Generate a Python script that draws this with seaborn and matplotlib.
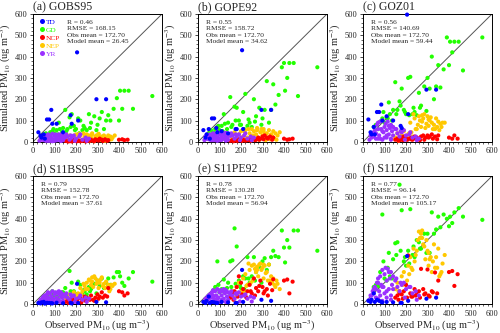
import matplotlib
matplotlib.use("Agg")
import matplotlib.pyplot as plt
from matplotlib.ticker import MultipleLocator
import seaborn as sns
import pandas as pd

# ---- data (obs shared across panels) ----
panels = ["a", "b", "c", "d", "e", "f"]
titles = ["(a) GOBS95", "(b) GOPE92", "(c) GOZ01", "(d) S11BS95", "(e) S11PE92", "(f) S11Z01"]
r_vals = ["0.46", "0.55", "0.56", "0.79", "0.78", "0.77"]
rmse_vals = ["168.15", "158.72", "140.69", "152.78", "130.28", "96.14"]
obs_mean = "172.70"
model_means = ["26.45", "34.62", "59.44", "37.61", "56.94", "105.17"]

legend_order = ["TD", "GD", "NCP", "NEP", "YR"]
draw_order = ["GD", "NEP", "NCP", "YR", "TD"]
colors = {"TD": "#0000FF", "GD": "#22FF00", "NCP": "#FF0000", "NEP": "#FFC800", "YR": "#9B30FF"}

td_obs = [25, 35, 40, 50, 55, 65, 75, 85, 90, 110, 140, 175, 180, 205, 210, 295, 340]
td_sim = {
    "a": [45, 30, 20, 35, 15, 105, 105, 150, 85, 85, 45, 125, 85, 420, 100, 200, 200],
    "b": [55, 20, 35, 60, 15, 110, 110, 65, 45, 50, 40, 60, 60, 430, 60, 150, 150],
    "c": [105, 45, 35, 70, 35, 140, 140, 175, 100, 120, 100, 75, 65, 597, 130, 245, 245],
    "d": [5, 3, 8, 10, 2, 6, 5, 4, 3, 6, 4, 5, 3, 95, 5, 10, 8],
    "e": [10, 5, 15, 35, 5, 10, 8, 6, 5, 10, 8, 5, 5, 160, 10, 20, 15],
    "f": [15, 10, 20, 50, 10, 20, 15, 10, 8, 10, 8, 5, 5, 225, 15, 25, 30],
}

gd_obs = [50, 60, 70, 80, 90, 100, 110, 120, 125, 135, 150, 160, 170, 180, 190, 200, 210, 220, 230, 240,
          250, 260, 270, 285, 300, 310, 320, 330, 340, 350, 360, 375, 390, 400, 405, 415, 425, 445, 465, 555,
          95, 115, 140, 155, 175, 195, 215, 235, 265, 295]
gd_sim = {
    "a": [35, 40, 30, 45, 50, 40, 55, 90, 60, 45, 150, 60, 115, 130, 75, 60, 110, 100, 55, 65,
          55, 130, 90, 120, 80, 110, 140, 60, 100, 125, 100, 155, 205, 100, 240, 155, 240, 240, 155, 215,
          60, 35, 65, 50, 70, 55, 40, 75, 65, 55],
    "b": [40, 55, 45, 60, 70, 55, 75, 130, 85, 60, 210, 80, 165, 160, 100, 80, 140, 225, 75, 90,
          70, 200, 120, 160, 110, 150, 285, 90, 150, 270, 175, 220, 350, 370, 240, 300, 370, 370, 215, 350,
          75, 50, 90, 70, 100, 80, 60, 105, 95, 80],
    "c": [70, 80, 60, 95, 110, 90, 115, 185, 130, 100, 280, 150, 190, 250, 150, 130, 300, 305, 130, 140,
          125, 230, 170, 260, 300, 250, 400, 200, 260, 360, 255, 340, 490, 360, 470, 420, 470, 470, 335, 490,
          140, 110, 150, 130, 170, 140, 125, 160, 160, 145],
    "d": [30, 35, 45, 25, 60, 40, 35, 50, 45, 55, 75, 45, 155, 100, 60, 40, 105, 90, 50, 60,
          45, 80, 70, 95, 110, 85, 120, 75, 100, 120, 90, 125, 150, 150, 130, 100, 85, 120, 150, 105,
          45, 30, 55, 40, 60, 50, 35, 65, 60, 50],
    "e": [40, 45, 35, 80, 200, 55, 70, 115, 60, 75, 200, 205, 355, 270, 110, 75, 130, 120, 220, 100,
          130, 220, 150, 175, 200, 215, 160, 185, 220, 250, 225, 220, 345, 265, 195, 300, 265, 345, 345, 250,
          90, 60, 100, 80, 95, 90, 70, 120, 110, 100],
    "f": [80, 90, 85, 150, 420, 120, 110, 240, 130, 120, 285, 290, 560, 440, 200, 180, 250, 445, 230, 220,
          300, 290, 260, 330, 330, 240, 430, 330, 350, 410, 360, 420, 400, 365, 410, 380, 430, 450, 410, 395,
          200, 170, 210, 230, 250, 220, 190, 270, 260, 240],
}

ncp_obs = [150, 160, 170, 180, 190, 200, 210, 220, 230, 240, 250, 260, 270, 280, 290, 300, 310, 320,
           335, 350, 400, 415, 425, 440, 165, 185, 205, 225, 245, 265, 285, 305, 325, 345]
ncp_sim = {
    "a": [5, 3, 8, 2, 10, 4, 6, 3, 5, 8, 4, 6, 10, 5, 12, 8, 15, 10, 12, 8, 10, 12, 8, 10,
          2, 5, 3, 6, 2, 5, 3, 6, 4, 5],
    "b": [5, 8, 10, 5, 12, 8, 10, 6, 8, 10, 12, 15, 10, 20, 15, 25, 30, 20, 25, 20, 15, 10, 12, 15,
          3, 6, 5, 8, 5, 8, 10, 12, 15, 10],
    "c": [10, 15, 8, 20, 25, 15, 12, 18, 10, 25, 20, 15, 25, 30, 20, 30, 25, 35, 25, 30, 20, 15, 30, 15,
          5, 8, 10, 12, 15, 8, 10, 20, 15, 12],
    "d": [10, 15, 20, 25, 20, 15, 25, 30, 20, 35, 30, 25, 40, 20, 30, 45, 35, 55, 40, 75, 60, 55, 40, 50,
          5, 10, 12, 8, 15, 20, 15, 25, 30, 35],
    "e": [30, 50, 60, 80, 130, 100, 70, 40, 60, 90, 50, 120, 75, 60, 110, 80, 60, 70, 95, 116, 110, 115, 50, 105,
          20, 35, 45, 30, 60, 40, 85, 50, 40, 65],
    "f": [30, 40, 50, 45, 60, 90, 228, 50, 35, 70, 55, 60, 165, 70, 50, 162, 35, 60, 148, 110, 150, 155, 85, 140,
          20, 25, 30, 35, 40, 30, 45, 40, 55, 50],
}

nep_obs = [150, 160, 170, 180, 190, 200, 210, 220, 230, 240, 250, 255, 260, 270, 275, 280, 290, 295,
           300, 305, 310, 320, 325, 330, 340, 345, 350, 360, 370, 380,
           165, 185, 205, 225, 245, 265, 285, 315, 335, 355, 365, 235, 275, 305, 215]
nep_sim = {
    "a": [20, 10, 30, 15, 25, 35, 20, 30, 10, 25, 35, 15, 30, 20, 35, 10, 25, 30, 15, 35, 20, 25, 10, 30,
          20, 15, 30, 25, 20, 30, 5, 8, 12, 5, 8, 5, 3, 8, 5, 10, 12, 40, 40, 38, 38],
    "b": [30, 15, 45, 20, 35, 50, 25, 55, 20, 40, 60, 30, 50, 35, 55, 20, 45, 60, 30, 50, 35, 40, 20, 55,
          35, 25, 50, 40, 30, 45, 10, 12, 8, 10, 15, 12, 10, 8, 12, 15, 10, 60, 65, 60, 50],
    "c": [20, 40, 10, 30, 50, 15, 35, 90, 25, 110, 60, 80, 120, 70, 95, 110, 65, 85, 120, 75, 100, 90, 60, 80,
          110, 70, 95, 85, 90, 90, 5, 10, 20, 45, 60, 100, 130, 115, 60, 55, 70, 130, 125, 105, 40],
    "d": [30, 20, 45, 35, 55, 40, 50, 75, 60, 85, 100, 70, 115, 90, 105, 80, 120, 95, 110, 75, 100, 125, 85, 95,
          105, 80, 90, 70, 85, 95, 25, 30, 35, 45, 70, 110, 130, 115, 75, 60, 90, 95, 125, 105, 40],
    "e": [40, 60, 30, 80, 100, 55, 120, 140, 90, 160, 180, 110, 185, 150, 175, 130, 190, 160, 170, 120, 180, 150,
          110, 185, 130, 100, 120, 80, 95, 70, 30, 45, 60, 85, 100, 165, 185, 145, 110, 90, 110, 190, 160, 185, 60],
    "f": [70, 100, 60, 130, 150, 90, 180, 220, 160, 200, 250, 300, 340, 330, 345, 280, 210, 300, 250, 180, 210,
          150, 200, 280, 220, 170, 260, 140, 190, 230, 60, 90, 110, 170, 230, 310, 270, 220, 170, 130, 150, 260,
          310, 240, 140],
}

yr_obs = [30, 40, 45, 50, 55, 60, 65, 70, 75, 80, 85, 90, 95, 100, 105, 110, 115, 120, 125, 130, 135, 140,
          150, 160, 170, 180, 190, 200, 215, 230, 245, 260, 70, 90, 110, 130,
          35, 50, 60, 70, 80, 90, 100, 110, 120, 130, 140, 155, 175, 195, 220, 250]
yr_sim = {
    "a": [5, 10, 20, 8, 30, 15, 25, 35, 10, 30, 20, 38, 12, 28, 35, 18, 30, 10, 25, 35, 15, 30, 20, 25, 10, 20,
          30, 15, 25, 10, 20, 15, 5, 3, 8, 4, 20, 25, 5, 18, 5, 10, 5, 8, 35, 5, 8, 35, 30, 5, 35, 5],
    "b": [8, 15, 25, 12, 35, 20, 30, 40, 15, 35, 25, 45, 18, 35, 40, 25, 38, 15, 30, 42, 20, 35, 28, 30, 15, 25,
          35, 20, 30, 15, 25, 20, 8, 5, 10, 6, 25, 30, 8, 22, 8, 12, 8, 10, 40, 8, 10, 40, 35, 8, 40, 8],
    "c": [10, 20, 35, 25, 55, 40, 80, 90, 30, 95, 60, 100, 45, 70, 85, 55, 95, 35, 65, 80, 50, 70, 60, 40, 25, 45,
          55, 30, 35, 20, 25, 15, 15, 10, 20, 10, 30, 45, 15, 60, 15, 50, 20, 30, 75, 15, 30, 60, 50, 10, 45, 8],
    "d": [10, 15, 30, 20, 40, 25, 45, 55, 20, 50, 35, 60, 25, 45, 55, 30, 50, 20, 40, 55, 30, 45, 35, 30, 20, 35,
          40, 25, 30, 20, 30, 25, 8, 5, 10, 8, 20, 35, 8, 30, 10, 20, 8, 15, 60, 10, 15, 50, 45, 10, 40, 10],
    "e": [12, 20, 35, 25, 45, 30, 55, 65, 25, 60, 40, 70, 30, 55, 65, 40, 60, 25, 50, 65, 35, 55, 45, 40, 25, 45,
          55, 35, 40, 25, 35, 30, 10, 8, 12, 10, 25, 40, 10, 40, 10, 25, 10, 20, 70, 10, 20, 60, 50, 12, 45, 12],
    "f": [20, 40, 60, 50, 80, 70, 100, 120, 60, 130, 90, 160, 80, 140, 170, 110, 165, 70, 120, 150, 90, 130, 110,
          80, 60, 90, 100, 70, 80, 50, 60, 40, 25, 15, 30, 20, 40, 70, 30, 100, 40, 80, 50, 60, 150, 40, 70, 120,
          100, 30, 80, 20],
}

obs_by_region = {"TD": td_obs, "GD": gd_obs, "NCP": ncp_obs, "NEP": nep_obs, "YR": yr_obs}
sim_by_region = {"TD": td_sim, "GD": gd_sim, "NCP": ncp_sim, "NEP": nep_sim, "YR": yr_sim}

rows = []
for p in panels:
    for reg in draw_order:
        for o, s in zip(obs_by_region[reg], sim_by_region[reg][p]):
            rows.append({"panel": p, "region": reg, "obs": o, "sim": s})
df = pd.DataFrame(rows)

# ---- styling ----
sns.set_style("ticks")
plt.rcParams["font.family"] = ["Liberation Serif", "DejaVu Serif"]
plt.rcParams["mathtext.fontset"] = "stix"

fig = plt.figure(figsize=(5, 3.33), dpi=100)
lefts = [0.066, 0.396, 0.726]
bottoms = [0.574, 0.087]
w, h = 0.258, 0.384

for i, p in enumerate(panels):
    ax = fig.add_axes([lefts[i % 3], bottoms[i // 3], w, h])
    ax.plot([0, 600], [0, 600], color="#555555", lw=0.7, zorder=1)
    sns.scatterplot(data=df[df.panel == p], x="obs", y="sim", hue="region",
                    hue_order=legend_order, palette=colors, s=9, linewidth=0,
                    marker="o", legend=(p == "a"), ax=ax, zorder=3, clip_on=False)
    ax.set_xlim(0, 600)
    ax.set_ylim(0, 600)
    ax.xaxis.set_major_locator(MultipleLocator(100))
    ax.yaxis.set_major_locator(MultipleLocator(100))
    ax.xaxis.set_minor_locator(MultipleLocator(20))
    ax.yaxis.set_minor_locator(MultipleLocator(20))
    ax.tick_params(which="major", length=2.5, width=0.6, labelsize=6, pad=1.5)
    ax.tick_params(which="minor", length=1.2, width=0.5)
    for sp in ax.spines.values():
        sp.set_linewidth(0.7)
        sp.set_color("black")
    ax.set_ylabel("Simulated PM$_{10}$ (ug m$^{-3}$)", fontsize=7.5, labelpad=1)
    if i >= 3:
        ax.set_xlabel("Observed PM$_{10}$ (ug m$^{-3}$)", fontsize=7.5, labelpad=1)
    else:
        ax.set_xlabel("")
    ax.set_title(titles[i], loc="left", fontsize=8.5, pad=3)

    tx = 0.26 if p == "a" else 0.06
    stats = [f"R = {r_vals[i]}", f"RMSE = {rmse_vals[i]}",
             f"Obs mean = {obs_mean}", f"Model mean = {model_means[i]}"]
    for k, line in enumerate(stats):
        ax.text(tx, 0.955 - k * 0.05, line, transform=ax.transAxes,
                fontsize=5.3, va="top", ha="left")

    if p == "a":
        handles, labels = ax.get_legend_handles_labels()
        leg = ax.legend(handles, labels, loc="upper left", frameon=False,
                        fontsize=5.3, handletextpad=0.0, labelspacing=0.25,
                        borderaxespad=0.2, markerscale=1.2, handlelength=1.2,
                        labelcolor="markerfacecolor")

fig.savefig("out.png", dpi=100)
